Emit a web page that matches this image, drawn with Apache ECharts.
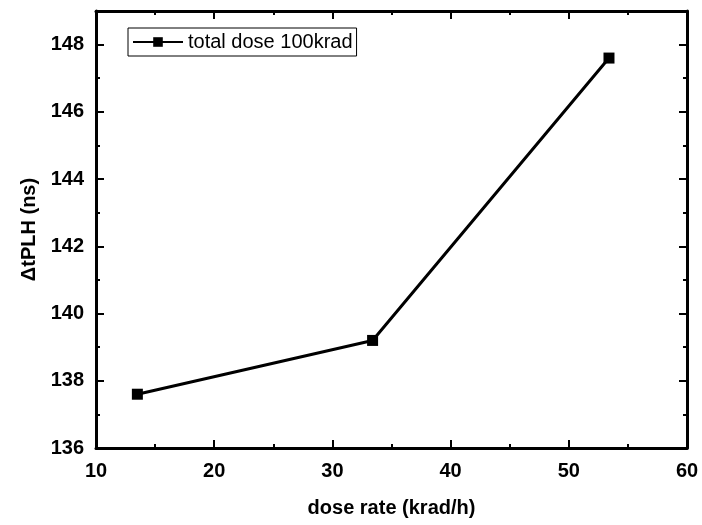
<!DOCTYPE html>
<html>
<head>
<meta charset="utf-8">
<script src="https://cdn.jsdelivr.net/npm/echarts@6/dist/echarts.min.js"></script>
<style>html,body{margin:0;padding:0;background:#fff}#c{width:702px;height:525px}</style>
</head>
<body>
<div id="c"></div>
<script>
var doseRate = [13.5, 33.4, 53.4];
var dtPLH = [137.6, 139.2, 147.6];
var seriesName = 'total dose 100krad';
var xName = 'dose rate (krad/h)';
var yName = '\u0394tPLH (ns)';

var chart = echarts.init(document.getElementById('c'));
var font = 'Liberation Sans, Arial, sans-serif';
function xAx(pos, show) {
  return {
    type: 'value', position: pos, min: 10, max: 60, interval: 10,
    name: show ? xName : '', nameLocation: 'middle', nameGap: 50,
    nameTextStyle: {fontFamily: font, fontWeight: 'bold', fontSize: 20, color: '#000'},
    axisLine: {show: true, onZero: false, lineStyle: {color: '#000', width: 3}},
    axisTick: {show: true, inside: true, length: 8, lineStyle: {color: '#000', width: 2}},
    minorTick: {show: true, splitNumber: 2, length: 4, lineStyle: {color: '#000', width: 2}},
    axisLabel: {show: show, margin: 13, fontFamily: font, fontWeight: 'bold', fontSize: 20, color: '#000'},
    splitLine: {show: false}
  };
}
function yAx(pos, show) {
  return {
    type: 'value', position: pos, min: 136, max: 149, interval: 2,
    name: show ? yName : '', nameLocation: 'middle', nameGap: 55, nameRotate: 90,
    nameTextStyle: {fontFamily: font, fontWeight: 'bold', fontSize: 20, color: '#000'},
    axisLine: {show: true, onZero: false, lineStyle: {color: '#000', width: 3}},
    axisTick: {show: true, inside: true, length: 8, lineStyle: {color: '#000', width: 2}},
    minorTick: {show: true, splitNumber: 2, length: 4, lineStyle: {color: '#000', width: 2}},
    axisLabel: {show: show, margin: 12, showMaxLabel: false, fontFamily: font, fontWeight: 'bold', fontSize: 20, color: '#000',
      formatter: function (v) { return (v % 2 === 0) ? String(v) : ''; }},
    splitLine: {show: false}
  };
}
chart.setOption({
  animation: false,
  backgroundColor: '#fff',
  grid: {left: 96, right: 15, top: 11, bottom: 77},
  legend: {
    show: true, left: 128, top: 28, orient: 'vertical',
    borderColor: '#000', borderWidth: 1, padding: [4, 4, 4, 4],
    itemWidth: 50, itemHeight: 12, itemGap: 5,
    textStyle: {fontFamily: font, fontSize: 20, color: '#000'},
    data: [seriesName]
  },
  xAxis: [xAx('bottom', true), xAx('top', false)],
  yAxis: [yAx('left', true), yAx('right', false)],
  series: [{
    name: seriesName, type: 'line',
    data: doseRate.map(function (x, i) { return [x, dtPLH[i]]; }),
    symbol: 'rect', symbolSize: 11,
    lineStyle: {color: '#000', width: 3},
    itemStyle: {color: '#000'}
  }]
});
</script>
</body>
</html>
